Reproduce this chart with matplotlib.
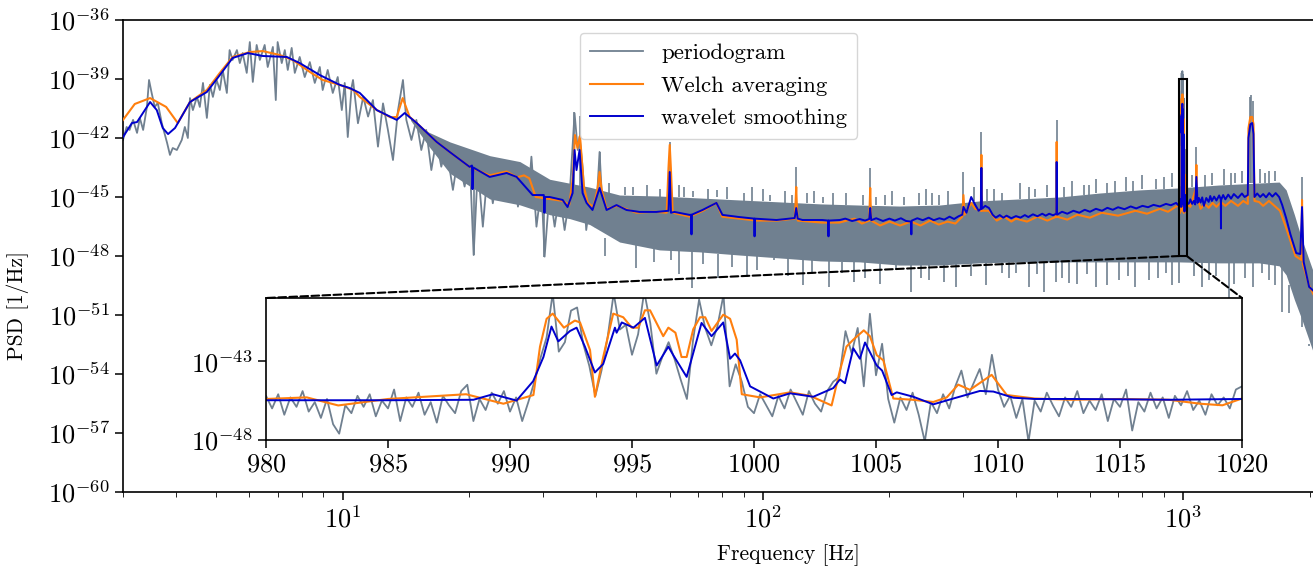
import numpy as np
import matplotlib
matplotlib.use("Agg")
import matplotlib.pyplot as plt
from matplotlib.patches import Rectangle, ConnectionPatch
from matplotlib.ticker import FixedLocator, NullLocator

GRAY = "slategray"
ORANGE = "#ff7f0e"
BLUE = "mediumblue"

# ---------------------------------------------------------------------------
# Values (frequency in Hz, PSD as log10 of 1/Hz)
# ---------------------------------------------------------------------------
# periodogram, low-frequency part where single samples are visible
pgram_low_freq = [
    3.00, 3.06, 3.11, 3.17, 3.24, 3.29, 3.35, 3.42, 3.46, 3.51, 3.57, 3.63,
    3.71, 3.82, 3.88, 3.94, 4.03, 4.14, 4.21, 4.28, 4.33, 4.40, 4.50, 4.57,
    4.65, 4.75, 4.83, 4.91, 5.01, 5.10, 5.18, 5.30, 5.38, 5.47, 5.60, 5.69,
    5.78, 5.91, 6.01, 6.11, 6.24, 6.35, 6.52, 6.63, 6.82, 6.93, 7.00, 7.16,
    7.28, 7.40, 7.56, 7.69, 7.90, 8.12, 8.35, 8.58, 8.82, 8.96, 9.21, 9.47,
    9.73, 9.95, 10.11, 10.28, 10.50, 10.58, 10.87, 11.19, 11.49, 11.80, 12.13,
    12.47, 12.81, 13.17, 13.54, 13.91, 14.17, 14.57, 14.97, 15.38, 15.80,
    16.25, 16.70, 17.16, 17.63, 18.29, 18.81, 19.50, 20.05, 20.49, 20.97,
    21.55, 22.16, 22.76, 23.41, 24.06, 24.73, 25.42, 26.12, 26.85, 27.58,
    28.12, 28.91, 29.71, 30.23, 31.07, 31.94, 32.82, 33.73, 34.66, 35.62,
    36.25, 36.61, 37.28, 37.97, 38.91, 39.92, 40.85, 41.50,
]
pgram_low_logpsd = [
    -42.10, -41.44, -41.59, -41.08, -41.74, -40.98, -41.59, -40.42, -39.05,
    -39.71, -40.42, -40.22, -41.24, -42.25, -42.86, -42.51, -42.61, -42.10,
    -41.44, -42.00, -39.97, -40.58, -39.91, -40.42, -39.20, -40.98, -39.30,
    -39.91, -39.05, -39.56, -38.54, -39.71, -37.53, -38.03, -37.53, -38.19,
    -37.68, -38.69, -37.12, -39.15, -37.27, -38.03, -37.27, -38.39, -37.37,
    -40.07, -37.12, -38.19, -37.53, -38.54, -37.42, -38.69, -37.88, -38.90,
    -38.14, -39.20, -38.39, -39.56, -38.54, -39.71, -38.90, -40.58, -39.20,
    -41.95, -39.41, -39.05, -41.25, -39.90, -40.91, -40.07, -42.44, -40.24,
    -41.59, -43.12, -40.58, -39.05, -41.08, -42.10, -41.08, -42.61, -41.59,
    -43.63, -42.10, -43.46, -42.44, -44.64, -42.95, -44.47, -43.03, -47.95,
    -43.46, -46.51, -43.46, -45.32, -43.63, -43.29, -44.98, -43.46, -45.49,
    -43.63, -45.32, -42.95, -46.51, -44.47, -48.03, -44.64, -46.51, -44.81,
    -46.68, -44.98, -40.74, -42.61, -41.93, -43.63, -46.68, -44.98, -46.51,
    -42.71, -45.50,
]
# periodogram points running through the dense band
pgram_mid_freq = [45.0, 70.0, 150.0, 300.0, 600.0, 950.0]
pgram_mid_logpsd = [-46.3, -46.6, -47.0, -46.9, -46.7, -46.4]
# periodogram in the zoomed window 980-1020 Hz, one value per 0.25 Hz bin
inset_pgram_logpsd = [
    -45.2, -46.0, -45.1, -46.4, -45.3, -45.9, -44.9, -46.2,
    -45.6, -46.6, -45.4, -47.0, -47.6, -45.8, -46.3, -45.2,
    -45.9, -45.1, -46.5, -45.5, -46.0, -44.8, -46.8, -45.3,
    -45.9, -45.0, -46.4, -45.6, -46.9, -45.2, -45.8, -46.3,
    -44.9, -44.5, -46.8, -45.4, -46.1, -45.0, -45.7, -44.9,
    -46.2, -45.3, -46.8, -45.6, -44.3, -42.8, -41.5, -38.7,
    -42.4, -41.8, -39.8, -39.6, -41.9, -43.3, -45.2, -43.6,
    -41.5, -38.7, -41.0, -40.7, -42.6, -41.3, -38.6, -40.6,
    -43.8, -42.7, -41.8, -42.9, -44.2, -45.4, -41.7, -39.1,
    -40.9, -42.0, -40.8, -38.8, -44.6, -43.2, -44.3, -45.9,
    -46.3, -45.1, -45.8, -46.5, -45.2, -46.0, -44.8, -45.6,
    -46.4, -44.9, -45.7, -46.2, -44.9, -44.3, -44.0, -41.1,
    -42.5, -40.9, -44.6, -40.0, -43.9, -41.9, -45.4, -46.9,
    -45.3, -46.1, -45.0, -46.4, -48.1, -45.6, -46.3, -45.1,
    -46.0, -44.6, -43.6, -45.3, -44.4, -43.5, -45.1, -42.6,
    -44.8, -45.9, -45.2, -46.6, -45.4, -48.1, -45.5, -46.2,
    -45.0, -45.8, -46.5, -45.3, -45.9, -44.9, -46.3, -45.5,
    -46.1, -45.1, -46.8, -45.4, -45.9, -44.8, -47.4, -45.6,
    -46.2, -45.0, -46.0, -45.3, -46.6, -45.2, -45.8, -44.9,
    -46.1, -45.5, -46.4, -45.1, -45.8, -45.3, -46.0, -44.8,
    -44.6,
]
pgram_high_freq = [1100.0, 1400.0, 1700.0, 1800.0, 1900.0, 2048.0]
pgram_high_logpsd = [-46.5, -46.3, -46.5, -47.5, -49.5, -51.2]

# dense part of the periodogram: lower and upper edge of the gray band
band_freq = [14.5, 16.0, 18.0, 22.4, 26.4, 31.1, 34.7, 38.7, 45.6, 56.7,
             70.6, 87.9, 109.8, 136.7, 169.9, 211.2, 263.0, 327.0, 407.0,
             507.0, 631.0, 786.0, 975.0, 1218.0, 1516.0, 1692.0, 1758.0,
             1840.0, 1918.0, 2048.0]
band_lo = [-41.1, -42.4, -43.8, -45.1, -45.4, -45.9, -46.1, -46.4, -47.29,
           -47.69, -47.79, -47.95, -48.10, -48.25, -48.30, -48.46, -48.46,
           -48.35, -48.30, -48.30, -48.30, -48.30, -48.30, -48.35, -48.35,
           -48.50, -48.96, -50.23, -51.25, -53.0]
band_hi = [-41.0, -41.7, -42.2, -42.9, -43.2, -44.1, -44.3, -44.5, -44.90,
           -44.95, -45.05, -45.15, -45.25, -45.35, -45.41, -45.46, -45.41,
           -45.20, -45.10, -45.00, -44.80, -44.64, -44.54, -44.39, -44.29,
           -44.24, -44.64, -45.91, -47.18, -48.9]

# single periodogram bins sticking out above the band
up_freq = [35.6, 36.6, 40.85, 60.0, 77.6, 120.0, 127.6, 180.0, 252.0, 300.0,
           331.0, 500.0, 598.0, 1075.0, 1440.0, 1452.0, 1464.0, 1918.0,
           43.0, 47.0, 49.0, 53.0, 57.0, 63.0, 65.0, 68.0, 74.0, 82.0, 90.0,
           94.0, 100.0, 104.0, 113.0, 117.0, 132.0, 139.0, 147.0, 158.0,
           173.0, 186.0, 195.0, 203.0, 217.0, 235.0, 244.0, 262.0, 276.0,
           318.0, 342.0, 355.0, 370.0, 410.0, 430.0, 445.0, 475.0, 520.0,
           545.0, 580.0, 620.0, 660.0, 690.0, 730.0, 760.0, 800.0, 860.0,
           900.0, 940.0, 1050.0, 1130.0, 1170.0, 1250.0, 1300.0, 1330.0,
           1380.0, 1520.0, 1570.0, 1600.0, 1650.0]
up_base = [-44.5, -44.5, -45.0, -45.0, -45.0, -45.3, -45.3, -45.4, -45.4,
           -45.3, -45.2, -45.0, -45.0, -44.5, -44.3, -44.3, -44.3, -47.0,
           -44.9, -44.9, -44.9, -45.0, -45.0, -45.0, -45.0, -45.0, -45.1,
           -45.1, -45.2, -45.2, -45.2, -45.2, -45.3, -45.3, -45.3, -45.3,
           -45.4, -45.4, -45.4, -45.4, -45.4, -45.4, -45.4, -45.4, -45.4,
           -45.4, -45.4, -45.2, -45.2, -45.2, -45.2, -45.1, -45.1, -45.0,
           -45.0, -45.0, -45.0, -44.9, -44.8, -44.8, -44.8, -44.7, -44.7,
           -44.6, -44.6, -44.6, -44.5, -44.5, -44.5, -44.4, -44.4, -44.4,
           -44.3, -44.3, -44.3, -44.3, -44.3, -44.2]
up_tip = [-40.7, -40.9, -42.71, -42.2, -44.64, -43.47, -44.8, -43.52, -44.8,
          -43.73, -41.69, -41.08, -44.39, -42.46, -39.9, -39.81, -40.1,
          -43.98,
          -44.3, -44.5, -44.5, -44.4, -44.6, -44.4, -44.5, -44.7, -44.6,
          -44.5, -44.8, -44.5, -44.6, -44.9, -44.7, -44.9, -44.7, -45.0,
          -44.8, -44.8, -44.9, -45.0, -44.9, -44.7, -45.0, -44.8, -44.6,
          -44.9, -44.7, -44.5, -44.6, -44.6, -44.8, -44.3, -44.5, -44.6,
          -44.4, -44.5, -44.2, -44.4, -44.1, -44.3, -44.2, -44.0, -44.2,
          -43.9, -44.1, -44.0, -43.8, -43.9, -43.9, -43.8, -43.6, -43.8,
          -43.8, -43.7, -43.6, -43.8, -43.7, -43.7]

# single periodogram bins dropping below the band
down_freq = [20.5, 30.2, 42.0, 50.0, 55.0, 60.5, 63.0, 67.96, 72.0, 78.0,
             84.6, 91.4, 97.0, 106.5, 115.0, 124.2, 131.0, 143.9, 154.5,
             165.1, 175.0, 190.0, 207.7, 225.5, 238.0, 249.0, 270.0, 288.4,
             312.0, 340.0, 371.0, 385.0, 401.0, 430.0, 450.0, 467.0, 499.0,
             515.0, 535.0, 560.0, 590.0, 621.0, 660.0, 705.0, 740.0, 770.0,
             830.0, 870.0, 912.0, 940.0, 978.0, 1060.0, 1110.0, 1153.0,
             1200.0, 1285.0, 1320.0, 1400.0, 1470.0, 1541.0, 1600.0, 1650.0,
             1718.0, 1787.0, 1918.5, 1994.0]
down_base = [-44.0, -45.5, -47.1, -47.4, -47.6, -47.6, -47.7, -47.7, -47.8,
             -47.9, -47.9, -47.9, -48.0, -48.1, -48.1, -48.2, -48.2, -48.2,
             -48.3, -48.3, -48.3, -48.4, -48.4, -48.4, -48.4, -48.4, -48.4,
             -48.4, -48.3, -48.3, -48.3, -48.3, -48.3, -48.3, -48.3, -48.3,
             -48.3, -48.3, -48.3, -48.3, -48.3, -48.3, -48.3, -48.3, -48.3,
             -48.3, -48.3, -48.3, -48.3, -48.3, -48.3, -48.3, -48.3, -48.3,
             -48.35, -48.35, -48.35, -48.35, -48.35, -48.35, -48.4, -48.45,
             -48.5, -49.5, -51.0, -52.5]
down_tip = [-47.95, -48.03, -48.0, -48.6, -48.3, -48.2, -48.9, -49.62, -48.4,
            -49.1, -48.56, -49.07, -48.7, -48.2, -49.0, -49.47, -48.9, -49.57,
            -48.86, -49.32, -49.1, -49.4, -48.71, -49.83, -49.1, -49.22, -49.3,
            -49.57, -49.0, -49.5, -48.86, -49.1, -48.86, -49.6, -48.9, -49.83,
            -49.32, -49.1, -49.37, -49.4, -48.9, -49.57, -49.5, -49.22, -49.0,
            -49.6, -49.22, -49.1, -48.86, -49.5, -49.37, -49.0, -49.6, -49.22,
            -49.0, -50.13, -49.4, -49.1, -49.6, -48.86, -49.2, -49.5, -50.84,
            -50.9, -51.6, -52.6]

# Welch averaging
welch_freq = [
    3.00, 3.20, 3.48, 3.80, 4.05, 4.33, 4.75, 5.10, 5.47, 6.01, 6.45, 7.08,
    7.60, 8.35, 8.96, 9.84, 10.60, 10.98, 12.05, 13.00, 13.44, 13.89, 14.43,
    15.00, 16.73, 17.97, 20.05, 22.37, 24.55, 26.00, 27.00, 27.80, 28.80,
    31.07, 33.37, 34.60, 35.30, 35.70, 36.20, 36.70, 37.50, 38.30, 39.50,
    40.40, 40.85, 41.30, 42.45, 45.0, 50.0, 55.0, 59.0, 59.6, 60.0, 60.4,
    61.0, 66.9, 72.0, 77.5, 80.0, 88.0, 96.5, 108.0, 119.0, 119.6, 120.0,
    120.4, 121.0, 138.0, 152.0, 165.0, 172.0, 179.0, 179.6, 180.0, 180.4,
    181.0, 190.0, 200.0, 212.0, 225.0, 237.0, 250.0, 262.0, 275.0, 287.0,
    298.0, 300.0, 302.0, 313.0, 320.0, 330.0, 331.0, 332.0, 345.0, 360.0,
    375.0, 390.0, 400.0, 425.0, 450.0, 475.0, 499.0, 500.0, 501.0, 530.0,
    560.0, 600.0, 640.0, 700.0, 770.0, 820.0, 880.0, 920.0, 960.0,
    980.0, 981.67, 982.96, 985.0, 988.2, 989.73, 990.96, 991.23, 991.5,
    991.75, 992.21, 992.66, 992.87, 993.28, 993.48, 993.82, 994.23, 994.64,
    994.99, 995.26, 995.53, 995.74, 996.28, 996.49, 996.78, 997.03, 997.24,
    997.51, 997.79, 998.0, 998.26, 998.74, 999.02, 999.29, 999.5, 1000.25,
    1001.48, 1002.3, 1003.18, 1003.52, 1003.79, 1004.07, 1004.5, 1004.75,
    1005.03, 1005.3, 1005.71, 1006.5, 1007.35, 1007.9, 1008.37, 1008.85,
    1009.74, 1010.36, 1011.5, 1013.0, 1015.0, 1017.0, 1018.28, 1019.2,
    1020.0,
    1040.0, 1074.0, 1075.0, 1076.0, 1100.0, 1125.0, 1150.0, 1175.0, 1200.0,
    1230.0, 1260.0, 1300.0, 1350.0, 1390.0, 1425.0, 1430.0, 1445.0, 1460.0,
    1470.0, 1478.0, 1515.0, 1550.0, 1600.0, 1650.0, 1700.0, 1760.0, 1850.0,
    1910.0, 1918.0, 1926.0, 1994.0, 2048.0,
]
welch_logpsd = [
    -41.08, -40.27, -39.97, -40.42, -41.24, -40.17, -39.56, -38.69, -37.88,
    -37.63, -37.58, -37.78, -38.03, -38.64, -39.05, -39.30, -39.56, -39.91,
    -40.58, -40.95, -40.93, -39.97, -40.93, -41.24, -42.20, -42.71, -43.47,
    -43.90, -43.70, -44.00, -43.90, -44.05, -45.00, -45.10, -45.20, -45.40,
    -44.00, -41.85, -42.50, -41.90, -44.50, -45.30, -45.50, -44.60, -43.73,
    -44.60, -45.60, -45.45, -45.80, -45.75, -45.80, -43.50, -42.35, -43.60,
    -45.80, -46.00, -45.70, -45.30, -46.00, -46.10, -46.20, -46.20, -46.10,
    -45.20, -44.49, -45.40, -46.20, -46.30, -46.30, -46.10, -46.35, -46.20,
    -45.30, -44.54, -45.30, -46.20, -46.45, -46.25, -46.45, -46.25, -46.45,
    -46.20, -46.40, -46.25, -46.35, -46.00, -44.90, -45.90, -45.30, -45.60,
    -45.70, -42.86, -45.70, -45.70, -46.20, -46.00, -46.25, -46.10, -46.25,
    -46.00, -46.20, -46.00, -42.20, -46.00, -46.15, -45.90, -46.05, -45.80,
    -45.95, -45.70, -45.85, -45.60, -45.75, -45.50,
    -45.40, -45.30, -45.81, -45.40, -45.10, -45.70, -45.15, -42.08, -40.32,
    -39.99, -40.88, -40.43, -40.55, -42.30, -45.26, -42.74, -39.99, -40.22,
    -40.88, -40.88, -39.78, -39.78, -41.42, -40.88, -41.20, -42.74, -42.74,
    -40.98, -40.22, -40.22, -41.09, -40.06, -40.32, -41.64, -45.10, -45.30,
    -44.98, -45.20, -45.81, -43.61, -42.08, -41.64, -41.05, -41.42, -42.62,
    -42.95, -45.37, -45.45, -45.59, -45.30, -44.49, -44.82, -43.87, -45.15,
    -45.37, -45.45, -45.40, -45.45, -45.70, -45.80, -45.37,
    -45.50, -44.50, -43.37, -44.80, -45.60, -45.35, -45.55, -45.30, -45.50,
    -45.25, -45.45, -45.20, -45.45, -45.20, -45.35, -41.50, -40.93, -40.93,
    -41.30, -45.20, -45.25, -45.45, -45.20, -45.45, -45.70, -46.60, -48.00,
    -48.20, -45.15, -48.40, -49.50, -50.00,
]

# wavelet smoothing
wavelet_freq = [
    3.00, 3.15, 3.24, 3.48, 3.61, 3.73, 3.84, 3.99, 4.33, 4.75, 5.10, 5.47,
    5.95, 6.45, 7.36, 7.90, 8.82, 9.84, 10.39, 10.98, 12.05, 13.44, 14.04,
    15.00, 16.73, 17.97, 20.05, 20.30, 20.36, 20.45, 22.37, 24.55, 25.93,
    28.30, 30.10, 30.20, 30.30, 31.07, 33.37, 34.28, 35.24, 35.62, 36.00,
    36.61, 37.22, 38.04, 39.30, 40.85, 42.45, 44.83, 47.35, 50.85, 55.80,
    59.60, 60.00, 60.40, 61.60, 66.90, 67.50, 67.60, 67.70, 71.80, 77.50,
    80.10, 87.90, 95.40, 95.50, 95.60, 107.7, 119.0, 120.0, 121.0, 124.2,
    138.5, 143.1, 143.2, 143.3, 152.4,
    157.0, 163.0, 170.0, 175.0, 179.0, 180.0, 181.0, 186.0, 193.0, 200.0,
    206.0, 213.0, 219.0, 225.0, 225.5, 226.0, 233.0, 240.0, 248.0, 255.0,
    263.0, 270.0, 278.0, 285.0, 292.0, 298.0, 300.0, 305.0, 313.0, 320.0,
    326.0, 330.0, 331.0, 332.0, 338.0, 345.0, 352.0, 358.0, 366.0, 373.0,
    380.0, 390.0, 400.0, 410.0, 420.0, 428.0, 439.0, 450.0, 462.0, 471.0,
    480.0, 490.0, 499.0, 500.0, 501.0, 515.0, 530.0, 548.0, 566.0, 583.0,
    600.0, 620.0, 641.0, 660.0, 680.0, 700.0, 725.0, 750.0, 773.0, 800.0,
    825.0, 850.0, 880.0, 910.0, 935.0, 962.0,
    980.0, 985.0, 988.5, 989.3, 990.27, 990.95, 991.37, 991.7, 991.98,
    992.46, 992.73, 993.07, 993.48, 993.82, 994.3, 994.37, 994.58, 995.06,
    995.53, 996.01, 996.49, 996.69, 997.24, 997.85, 998.26, 998.74, 999.02,
    999.22, 999.43, 999.84, 1000.79, 1001.48, 1002.43, 1003.25, 1003.52,
    1003.73, 1004.07, 1004.34, 1004.55, 1005.03, 1005.25, 1005.64, 1005.85,
    1006.53, 1007.35, 1008.17, 1009.26, 1009.81, 1010.63, 1011.5, 1013.0,
    1015.0, 1017.0, 1020.0,
    1033.0, 1040.0, 1050.0, 1060.0, 1068.0, 1075.0, 1082.0, 1090.0, 1100.0,
    1110.0, 1120.0, 1135.0, 1150.0, 1160.0, 1170.0, 1185.0, 1200.0, 1218.0,
    1229.0, 1230.0, 1231.0, 1245.0, 1260.0, 1280.0, 1300.0, 1320.0, 1350.0,
    1380.0, 1400.0, 1425.0, 1430.0, 1445.0, 1460.0, 1470.0, 1478.0, 1500.0,
    1525.0, 1550.0, 1575.0, 1602.0, 1630.0, 1660.0, 1692.0, 1720.0, 1758.0,
    1800.0, 1858.0, 1900.0, 1918.0, 1935.0, 1994.0, 2048.0,
]
wavelet_logpsd = [
    -41.95, -41.24, -41.19, -40.17, -40.58, -41.49, -41.80, -41.49, -40.17,
    -39.66, -38.80, -37.93, -37.68, -37.83, -37.88, -38.19, -38.80, -39.30,
    -39.46, -39.71, -40.58, -41.08, -40.73, -41.24, -42.20, -42.71, -43.47,
    -43.40, -44.60, -43.50, -43.98, -43.78, -43.98, -44.90, -44.90, -45.80,
    -45.00, -45.00, -45.15, -45.51, -44.80, -42.61, -43.63, -42.61, -44.80,
    -45.30, -45.66, -44.54, -45.66, -45.41, -45.66, -45.76, -45.76, -45.70,
    -43.73, -45.80, -45.76, -45.91, -45.90, -46.90, -45.90, -45.66, -45.30,
    -45.91, -46.02, -46.10, -47.00, -46.10, -46.17, -46.07, -45.56, -46.10,
    -46.17, -46.17, -46.20, -47.00, -46.20, -46.17,
    -46.10, -46.22, -46.12, -46.20, -46.12, -45.56, -46.18, -46.08, -46.22,
    -46.10, -46.20, -46.08, -46.22, -46.25, -46.90, -46.20, -46.08, -46.18,
    -46.05, -46.18, -46.08, -46.15, -46.00, -46.12, -45.98, -45.90, -45.50,
    -45.80, -45.00, -45.40, -45.70, -45.60, -43.52, -45.60, -45.45, -45.56,
    -45.90, -46.05, -45.92, -46.05, -45.95, -46.08, -45.97, -46.05, -45.92,
    -46.02, -45.88, -45.98, -45.85, -45.95, -45.85, -45.93, -45.85, -43.22,
    -45.90, -45.75, -45.85, -45.70, -45.80, -45.65, -45.75, -45.60, -45.70,
    -45.55, -45.65, -45.52, -45.62, -45.48, -45.58, -45.45, -45.52, -45.40,
    -45.48, -45.35, -45.42, -45.30,
    -45.48, -45.48, -45.45, -45.10, -45.50, -44.27, -42.74, -40.81, -41.75,
    -41.09, -40.88, -42.08, -43.72, -43.18, -40.88, -41.20, -40.55, -40.88,
    -40.26, -43.28, -42.08, -42.62, -44.00, -40.58, -41.42, -40.55, -42.85,
    -42.52, -42.95, -44.60, -45.37, -45.04, -45.26, -44.71, -44.16, -44.40,
    -42.19, -42.85, -41.82, -43.28, -43.60, -45.15, -44.98, -45.26, -45.74,
    -45.37, -44.89, -44.93, -45.32, -45.40, -45.40, -45.42, -45.45, -45.40,
    -45.30, -45.12, -45.35, -45.20, -45.38, -43.98, -45.30, -45.05, -45.28,
    -45.02, -45.45, -45.05, -45.25, -44.95, -45.20, -44.98, -45.18, -44.92,
    -45.12, -46.60, -45.15, -44.90, -45.12, -44.88, -45.08, -44.85, -45.05,
    -44.82, -45.00, -44.90, -42.00, -41.30, -41.24, -41.80, -45.00, -44.82,
    -45.00, -44.85, -45.02, -44.80, -44.98, -44.80, -45.00, -45.40, -46.07,
    -46.90, -47.85, -47.90, -45.51, -48.30, -49.57, -49.80,
]

# axis settings
x_limits = (3.0, 2048.0)
y_limits_exp = (-60, -36)
y_tick_exp = [-60, -57, -54, -51, -48, -45, -42, -39, -36]
inset_x_limits = (980.0, 1020.0)
inset_y_limits_exp = (-48, -39)
inset_x_ticks = [980, 985, 990, 995, 1000, 1005, 1010, 1015, 1020]
inset_y_tick_exp = [-48, -43]


def pow10(values):
    return np.power(10.0, np.asarray(values, dtype=float))


def main():
    plt.rcParams["font.family"] = "serif"
    plt.rcParams["font.serif"] = ["cmr10", "DejaVu Serif"]
    plt.rcParams["mathtext.fontset"] = "cm"
    plt.rcParams["axes.formatter.use_mathtext"] = True
    plt.rcParams["axes.unicode_minus"] = False
    plt.rcParams["axes.linewidth"] = 1.2
    plt.rcParams["xtick.major.width"] = 1.1
    plt.rcParams["ytick.major.width"] = 1.1
    plt.rcParams["xtick.major.size"] = 6
    plt.rcParams["ytick.major.size"] = 6
    plt.rcParams["xtick.minor.size"] = 3.5

    inset_freq = np.linspace(inset_x_limits[0], inset_x_limits[1],
                             len(inset_pgram_logpsd))
    pgram_freq = np.concatenate([pgram_low_freq, pgram_mid_freq, inset_freq,
                                 pgram_high_freq])
    pgram_psd = pow10(np.concatenate([pgram_low_logpsd, pgram_mid_logpsd,
                                      inset_pgram_logpsd, pgram_high_logpsd]))

    fig = plt.figure(figsize=(13.13, 5.69), dpi=100)
    ax = fig.add_axes([123 / 1313, 77 / 569, 1191 / 1313, 472 / 569])

    ax.fill_between(band_freq, pow10(band_lo), pow10(band_hi),
                    color=GRAY, lw=0, zorder=1)
    ax.vlines(up_freq, pow10(up_base), pow10(up_tip),
              color=GRAY, lw=1.2, zorder=1)
    ax.vlines(down_freq, pow10(down_base), pow10(down_tip),
              color=GRAY, lw=1.2, zorder=1)
    ax.plot(pgram_freq, pgram_psd, color=GRAY, lw=1.3, label="periodogram",
            zorder=2)
    ax.plot(welch_freq, pow10(welch_logpsd), color=ORANGE, lw=1.5,
            label="Welch averaging", zorder=3)
    ax.plot(wavelet_freq, pow10(wavelet_logpsd), color=BLUE, lw=1.4,
            label="wavelet smoothing", zorder=4)

    ax.set_xscale("log")
    ax.set_yscale("log")
    ax.set_xlim(*x_limits)
    ax.set_ylim(*pow10(y_limits_exp))
    ax.yaxis.set_major_locator(FixedLocator(pow10(y_tick_exp)))
    ax.yaxis.set_minor_locator(NullLocator())
    ax.tick_params(labelsize=19)
    ax.set_xlabel("Frequency [Hz]", fontsize=15.5)
    ax.set_ylabel("PSD [1/Hz]", fontsize=15.5)
    # the labels sit off the axes centre in the reference
    ax.xaxis.set_label_coords(0.559, -0.111)
    ax.yaxis.set_label_coords(-0.079, 0.396)

    ax.legend(loc="upper center", fontsize=16.5, handlelength=2.3,
              borderpad=0.45, labelspacing=0.55, borderaxespad=0.55)

    # zoomed window
    y0, y1 = pow10(inset_y_limits_exp)
    ax.add_patch(Rectangle((inset_x_limits[0], y0),
                           inset_x_limits[1] - inset_x_limits[0], y1 - y0,
                           fill=False, ec="black", lw=1.5, zorder=6))

    axins = fig.add_axes([266 / 1313, 129 / 569, 976 / 1313, 142 / 569])
    axins.plot(pgram_freq, pgram_psd, color=GRAY, lw=1.3)
    axins.plot(welch_freq, pow10(welch_logpsd), color=ORANGE, lw=1.5)
    axins.plot(wavelet_freq, pow10(wavelet_logpsd), color=BLUE, lw=1.4)
    axins.set_yscale("log")
    axins.set_xlim(*inset_x_limits)
    axins.set_ylim(y0, y1)
    axins.set_xticks(inset_x_ticks)
    axins.yaxis.set_major_locator(FixedLocator(pow10(inset_y_tick_exp)))
    axins.yaxis.set_minor_locator(NullLocator())
    axins.tick_params(labelsize=19)

    for xa, xb in ((inset_x_limits[0], 0.0), (inset_x_limits[1], 1.0)):
        con = ConnectionPatch(xyA=(xa, y0), coordsA=ax.transData,
                              xyB=(xb, 1.0), coordsB=axins.transAxes,
                              color="black", lw=1.5, ls="--")
        fig.add_artist(con)

    fig.savefig("out.png", dpi=100)


if __name__ == "__main__":
    main()
